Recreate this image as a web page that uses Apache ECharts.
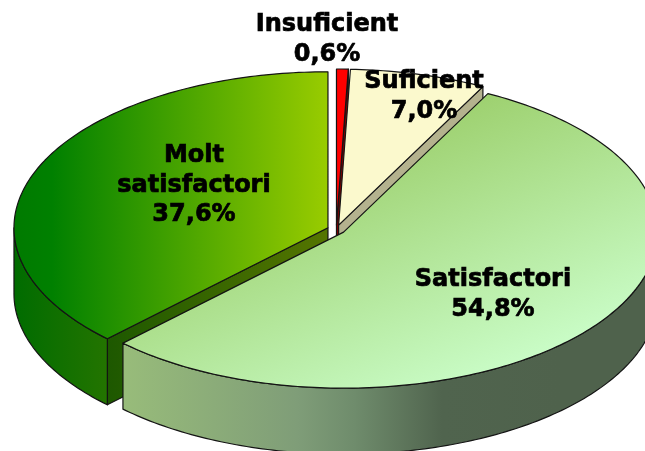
<!DOCTYPE html>
<html>
<head>
<meta charset="utf-8">
<style>html,body{margin:0;padding:0;background:#fff}#c{width:645px;height:451px}</style>
<script src="https://cdn.jsdelivr.net/npm/echarts@6/dist/echarts.min.js"></script>
</head>
<body>
<div id="c"></div>
<script>
const categories = ['Insuficient', 'Suficient', 'Satisfactori', 'Molt satisfactori'];
const shares = [0.6, 7.0, 54.8, 37.6];

const CX = 336.3, CY = 229.5, RX = 314, RY = 156, DEPTH = 66, EXPLODE = 9;
const LG = (x0, y0, x1, y1, stops) => new echarts.graphic.LinearGradient(
  x0, y0, x1, y1, stops.map((c, i) => ({offset: c[0], color: c[1]})), true);

const looks = [
  {top: '#ff0000', wall: '#7a0000', cut: '#800000', rank: 0, lx: 327, ly: 40},
  {top: '#fbf9cd', wall: '#b4b28e', cut: '#b4b28e', rank: 1, lx: 424, ly: 97},
  {top: LG(480, 65, 598, 350, [[0, '#99cc66'], [1, '#ccffcc']]),
   wall: LG(123, 0, 560, 0, [[0, '#98bc7a'], [0.4, '#7f9d78'], [0.53, '#6f8c6c'], [0.73, '#50644e'], [1, '#4f624c']]),
   cut: '#8aa870', rank: 3, lx: 493, ly: 295},
  {top: LG(14, 0, 328, 0, [[0, '#007a00'], [0.12, '#008000'], [1, '#99cc00']]),
   wall: LG(14, 0, 107, 0, [[0, '#006c00'], [1, '#237400']]),
   cut: LG(107, 0, 328, 0, [[0, '#1d5800'], [1, '#557500']]), rank: 2, lx: 194, ly: 185.5}
];

const total = shares.reduce((a, b) => a + b, 0);
const starts = [];
shares.reduce((acc, v, i) => { starts[i] = acc; return acc + v; }, 0);

function rimPoint(cx, cy, deg) {
  const r = deg * Math.PI / 180;
  return [cx + RX * Math.sin(r), cy - RY * Math.cos(r)];
}
function arc(cx, cy, a0, a1) {
  const pts = [];
  for (let a = a0; a < a1; a += 1) pts.push(rimPoint(cx, cy, a));
  pts.push(rimPoint(cx, cy, a1));
  return pts;
}
const down = p => [p[0], p[1] + DEPTH];
const stroke = {stroke: '#141414', lineWidth: 1.2, lineJoin: 'round'};

function renderItem(params, api) {
  const i = api.value(0), v = api.value(1);
  const a0 = starts[i] / total * 360, a1 = a0 + v / total * 360;
  const mid = (a0 + a1) / 2 * Math.PI / 180;
  const cx = CX + EXPLODE * Math.sin(mid), cy = CY - EXPLODE * 0.5 * Math.cos(mid);
  const L = looks[i], z = L.rank * 10;
  const children = [];

  const apex = [cx, cy];
  if (a1 < 180) {
    const e = rimPoint(cx, cy, a1);
    children.push({type: 'polygon', z2: z + 1, silent: true,
      shape: {points: [apex, e, down(e), down(apex)]},
      style: Object.assign({fill: L.cut}, stroke)});
  }
  if (a0 > 180) {
    const s = rimPoint(cx, cy, a0);
    children.push({type: 'polygon', z2: z + 1, silent: true,
      shape: {points: [apex, s, down(s), down(apex)]},
      style: Object.assign({fill: L.cut}, stroke)});
  }
  const w0 = Math.max(a0, 90), w1 = Math.min(a1, 270);
  if (w1 > w0) {
    const rim = arc(cx, cy, w0, w1);
    children.push({type: 'polygon', z2: z + 2, silent: true,
      shape: {points: rim.concat(rim.slice().reverse().map(down))},
      style: Object.assign({fill: L.wall}, stroke)});
  }
  children.push({type: 'polygon', z2: z + 3, silent: true,
    shape: {points: [apex].concat(arc(cx, cy, a0, a1))},
    style: Object.assign({fill: L.top}, stroke)});
  const name = categories[i].replace(' ', '\n');
  children.push({type: 'text', z2: 100, silent: true, x: L.lx, y: L.ly,
    style: {text: name + '\n' + v.toFixed(1).replace('.', ',') + '%',
      fill: '#000', stroke: '#000', lineWidth: 0.7,
      font: 'bold 24px "DejaVu Sans"', lineHeight: 29.5,
      align: 'center', verticalAlign: 'middle'}});
  return {type: 'group', children};
}

const chart = echarts.init(document.getElementById('c'), null, {renderer: 'canvas'});
chart.setOption({
  animation: false,
  backgroundColor: '#ffffff',
  series: [{
    type: 'custom',
    coordinateSystem: 'none',
    renderItem,
    clip: false,
    data: shares.map((v, i) => ({name: categories[i], value: [i, v]}))
  }]
});
</script>
</body>
</html>
